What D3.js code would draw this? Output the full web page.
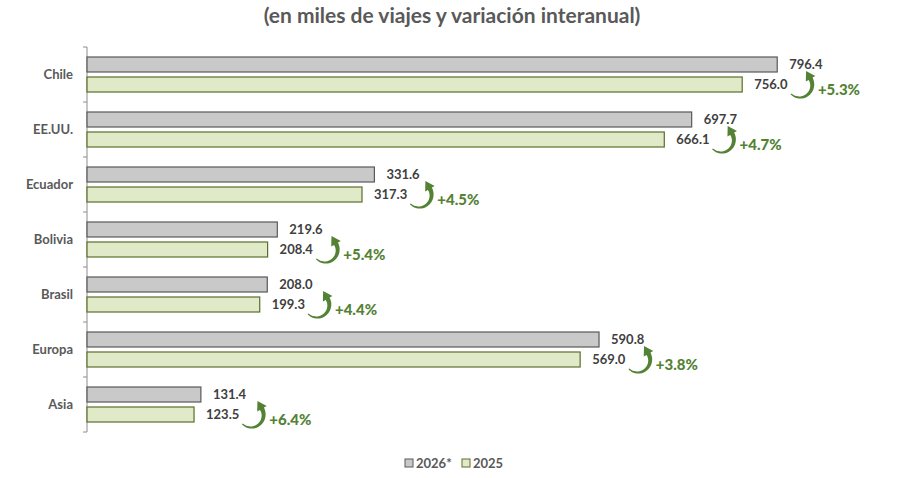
<!DOCTYPE html>
<meta charset="utf-8" />
<style>
  body { margin: 0; background: #fff; }
  text { font-family: Lato, "Open Sans", sans-serif; font-weight: bold; }
  .cat { font-size: 13px; fill: #595959; }
  .val { font-size: 13px; fill: #404040; }
  .pct { font-size: 15px; fill: #548235; font-weight: 900; }
  .title { font-size: 21px; fill: #595959; }
  .legend text { font-size: 13px; fill: #595959; }
</style>
<body>
<script src="https://d3js.org/d3.v7.min.js"></script>
<script>
  // data
  var categories = ['Chile', 'EE.UU.', 'Ecuador', 'Bolivia', 'Brasil', 'Europa', 'Asia'];
  var series = ['2026*', '2025'];
  var values2026 = [796.4, 697.7, 331.6, 219.6, 208.0, 590.8, 131.4];
  var values2025 = [756.0, 666.1, 317.3, 208.4, 199.3, 569.0, 123.5];
  var variation = ['+5.3%', '+4.7%', '+4.5%', '+5.4%', '+4.4%', '+3.8%', '+6.4%'];

  var W = 904, H = 478;
  var fill = { '2026*': '#c9c9c9', '2025': '#e0eac8' };
  var stroke = { '2026*': '#595959', '2025': '#5a6e2a' };
  var green = '#548235';

  var svg = d3.select('body').append('svg')
    .attr('width', W).attr('height', H);

  svg.append('text').attr('class', 'title')
    .attr('x', 452).attr('y', 23)
    .attr('text-anchor', 'middle')
    .text('(en miles de viajes y variación interanual)');

  var x = d3.scaleLinear().domain([0, 900]).range([87, 867]);
  var y = d3.scaleBand().domain(categories).range([47, 432]);
  var ySub = d3.scaleBand().domain(series).range([10, 45]).paddingInner(0.25);

  // axis line with ticks at band boundaries
  var bounds = categories.map(function (c) { return y(c); }).concat([y.range()[1]]);
  svg.append('line')
    .attr('x1', x(0)).attr('x2', x(0))
    .attr('y1', y.range()[0]).attr('y2', y.range()[1])
    .attr('stroke', '#8c8c8c');
  svg.selectAll('.tick').data(bounds).enter().append('line')
    .attr('x1', x(0) - 4).attr('x2', x(0))
    .attr('y1', function (d) { return d; }).attr('y2', function (d) { return d; })
    .attr('stroke', '#8c8c8c');

  svg.selectAll('.cat').data(categories).enter().append('text')
    .attr('class', 'cat')
    .attr('x', 73)
    .attr('y', function (d) { return y(d) + y.bandwidth() / 2; })
    .attr('dy', '0.35em')
    .attr('text-anchor', 'end')
    .text(function (d) { return d; });

  var rows = categories.map(function (c, i) {
    return { cat: c, v: { '2026*': values2026[i], '2025': values2025[i] }, pct: variation[i] };
  });

  var g = svg.selectAll('.row').data(rows).enter().append('g')
    .attr('transform', function (d) { return 'translate(0,' + y(d.cat) + ')'; });

  series.forEach(function (s) {
    g.append('rect')
      .attr('x', x(0))
      .attr('y', ySub(s))
      .attr('width', function (d) { return x(d.v[s]) - x(0); })
      .attr('height', ySub.bandwidth())
      .attr('fill', fill[s])
      .attr('stroke', stroke[s])
      .attr('stroke-width', 1.2);

    g.append('text').attr('class', 'val lab' + (s === '2025' ? '25' : '26'))
      .attr('x', function (d) { return x(d.v[s]) + 12; })
      .attr('y', ySub(s) + ySub.bandwidth() / 2)
      .attr('dy', '0.35em')
      .text(function (d) { return d.v[s].toFixed(1); });
  });

  // curved arrow: tapered arc from bottom-left round to the top, head pointing up-left
  function arrowPath(cx, cy, r) {
    var a0 = 135 * Math.PI / 180, a1 = -30 * Math.PI / 180;
    var n = 24, outer = [], inner = [];
    for (var i = 0; i <= n; i++) {
      var t = i / n, a = a0 + (a1 - a0) * t, w = 1.2 + 3.4 * t;
      outer.push([cx + (r + w / 2) * Math.cos(a), cy + (r + w / 2) * Math.sin(a)]);
      inner.push([cx + (r - w / 2) * Math.cos(a), cy + (r - w / 2) * Math.sin(a)]);
    }
    var ex = cx + r * Math.cos(a1), ey = cy + r * Math.sin(a1);
    var tx = Math.sin(a1), ty = -Math.cos(a1);      // tangent (direction of travel)
    var nx = Math.cos(a1), ny = Math.sin(a1);       // radial normal
    var head = [
      [ex + nx * 5.5, ey + ny * 5.5],
      [ex + tx * 9, ey + ty * 9],
      [ex - nx * 5.5, ey - ny * 5.5]
    ];
    var pts = outer.concat(head).concat(inner.reverse());
    return d3.line()(pts) + 'Z';
  }

  g.each(function (d) {
    var row = d3.select(this);
    var bb = row.select('.lab25').node().getBBox();
    var x0 = bb.x + bb.width + 3;
    var r = 12.5;
    var cx = x0 + r * Math.cos(Math.PI / 4);
    var cy = ySub('2025') + ySub.bandwidth() / 2 + 0.5;
    row.append('path')
      .attr('d', arrowPath(cx, cy, r))
      .attr('fill', green);
    row.append('text').attr('class', 'pct')
      .attr('x', x0 + 27)
      .attr('y', ySub('2025') + ySub.bandwidth() / 2 + 5)
      .attr('dy', '0.35em')
      .text(d.pct);
  });

  // legend
  var legend = svg.append('g').attr('class', 'legend');
  var lx = [405, 462];
  series.forEach(function (s, i) {
    legend.append('rect')
      .attr('x', lx[i]).attr('y', 459)
      .attr('width', 8).attr('height', 8)
      .attr('fill', fill[s]).attr('stroke', stroke[s]);
    legend.append('text')
      .attr('x', lx[i] + 11).attr('y', 463)
      .attr('dy', '0.35em')
      .text(s);
  });
</script>
</body>
